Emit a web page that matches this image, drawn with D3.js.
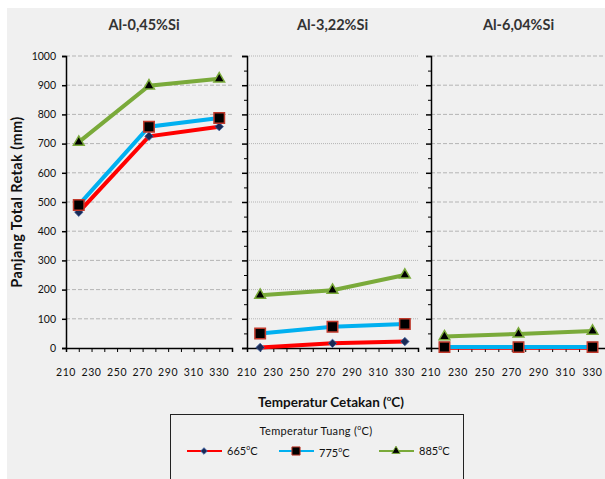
<!DOCTYPE html>
<html>
<head>
<meta charset="utf-8">
<script src="https://cdn.jsdelivr.net/npm/d3@7"></script>
<style>
body { margin: 0; background: #fff; }
text { font-family: Lato, "Open Sans", sans-serif; }
</style>
</head>
<body>
<svg width="605" height="479"></svg>
<script>
var panels = ["Al-0,45%Si", "Al-3,22%Si", "Al-6,04%Si"];
var temps = [220, 275, 330];
var series = ["665", "775", "885"];

// values read per panel, per series
var v665 = [[465, 725, 758], [2, 16, 22], [1, 1, 1]];
var v775 = [[490, 758, 788], [50, 73, 82], [3, 3, 3]];
var v885 = [[705, 898, 922], [181, 198, 250], [39, 48, 58]];

var xTicks = [210, 220, 230, 240, 250, 260, 270, 280, 290, 300, 310, 320, 330, 340];
var xLabels = [210, 230, 250, 270, 290, 310, 330];
var yTicks = [0, 100, 200, 300, 400, 500, 600, 700, 800, 900, 1000];
var yMinor = [50, 150, 250, 350, 450, 550, 650, 750, 850, 950];

var colors = ["#ff0000", "#00b0f0", "#7aaa3a"];
var values = [v665, v775, v885];

var svg = d3.select("svg");

svg.append("rect").attr("x", 7).attr("y", 8).attr("width", 600).attr("height", 480).attr("fill", "#f0f0f0");

var y = d3.scaleLinear().domain([0, 1000]).range([348, 56]);

var ranges = [[66, 232], [247, 418], [431, 606]];
var dashes = ["4,2", "1,1", "4,2"];

panels.forEach(function(name, p) {
  var x = d3.scaleLinear().domain([210, 340]).range(ranges[p]);
  var g = svg.append("g");

  // grid
  g.selectAll(".grid").data(yTicks.slice(1)).enter().append("line")
    .attr("x1", ranges[p][0]).attr("x2", ranges[p][1])
    .attr("y1", function(d) { return y(d); }).attr("y2", function(d) { return y(d); })
    .attr("stroke", "#b4b4b4").attr("stroke-width", 1)
    .attr("stroke-dasharray", dashes[p]);

  // title
  g.append("text").attr("x", (ranges[p][0] + ranges[p][1]) / 2 + (p == 0 ? -5 : 0)).attr("y", 30)
    .attr("text-anchor", "middle").attr("font-size", 14.5).attr("font-weight", "bold")
    .attr("fill", "#333").text(name);

  // x axis
  var xa = g.append("g").attr("transform", "translate(0,348)")
    .call(d3.axisBottom(x).tickValues(xTicks).tickSize(4).tickFormat(""));
  xa.select(".domain").attr("stroke", "#000").attr("stroke-width", 1.5);
  xa.selectAll("line").attr("stroke", "#000");
  g.selectAll(".xl").data(xLabels).enter().append("text")
    .attr("x", function(d) { return x(d); }).attr("y", 376)
    .attr("text-anchor", "middle").attr("font-size", 10.5).attr("fill", "#111")
    .attr("letter-spacing", 0.6).text(function(d) { return d; });

  // y axis
  var ya = g.append("g").attr("transform", "translate(" + ranges[p][0] + ",0)")
    .call(d3.axisLeft(y).tickValues(yTicks).tickSize(p == 0 ? 4 : 5).tickFormat(p == 0 ? d3.format("d") : ""));
  ya.select(".domain").attr("stroke", "#000").attr("stroke-width", 1.5);
  ya.selectAll("line").attr("stroke", "#000").attr("stroke-width", 1.5);
  ya.selectAll("text").attr("font-size", 10.5).attr("fill", "#111").attr("x", -10);
  if (p > 0) {
    g.append("g").attr("transform", "translate(" + ranges[p][0] + ",0)")
      .call(d3.axisLeft(y).tickValues(yMinor).tickSize(3).tickFormat(""))
      .call(function(s) { s.select(".domain").remove(); s.selectAll("line").attr("stroke", "#000"); });
  }

  // lines and markers
  series.forEach(function(s, i) {
    var pts = temps.map(function(t, j) { return [t, values[i][p][j]]; });
    g.append("path").datum(pts)
      .attr("fill", "none").attr("stroke", colors[i]).attr("stroke-width", 4)
      .attr("d", d3.line().x(function(d) { return x(d[0]); }).y(function(d) { return y(d[1]); }));
  });
  series.forEach(function(s, i) {
    var pts = temps.map(function(t, j) { return [t, values[i][p][j]]; });
    g.selectAll(".m" + i).data(pts).enter().append("path")
      .attr("transform", function(d) { return "translate(" + x(d[0]) + "," + y(d[1]) + ")"; })
      .attr("d", markerPath(i, 1))
      .attr("fill", i == 0 ? "#1a2a55" : "#000")
      .attr("stroke", i == 0 ? "#3d5fa0" : (i == 1 ? "#c0392b" : "#7aaa3a"))
      .attr("stroke-width", i == 0 ? 0.8 : 1.5);
  });
});

function markerPath(i, k) {
  if (i == 0) return d3.symbol().type(d3.symbolDiamond2).size(45 * k)();
  if (i == 1) return d3.symbol().type(d3.symbolSquare).size(110 * k)();
  return d3.symbol().type(d3.symbolTriangle).size(50 * k)();
}

// axis titles
svg.append("text").attr("transform", "translate(22,202) rotate(-90)")
  .attr("text-anchor", "middle").attr("font-size", 14.5).attr("font-weight", "bold")
  .attr("fill", "#111").attr("letter-spacing", 0.4)
  .text("Panjang Total Retak (mm)");

var xt = svg.append("text").attr("x", 331).attr("y", 407)
  .attr("text-anchor", "middle").attr("font-size", 13.5).attr("font-weight", "bold").attr("fill", "#111");
xt.append("tspan").text("Temperatur Cetakan (");
xt.append("tspan").attr("dy", -6).attr("font-size", 8).text("o");
xt.append("tspan").attr("dy", 6).text("C)");

// legend
var lg = svg.append("g");
lg.append("rect").attr("x", 170.5).attr("y", 414.5).attr("width", 293).attr("height", 80)
  .attr("fill", "#f0f0f0").attr("stroke", "#222").attr("stroke-width", 1);
var lt = lg.append("text").attr("x", 316).attr("y", 435).attr("text-anchor", "middle")
  .attr("font-size", 11).attr("fill", "#111").attr("letter-spacing", 0.3);
lt.append("tspan").text("Temperatur Tuang (");
lt.append("tspan").attr("dy", -5).attr("font-size", 7).text("o");
lt.append("tspan").attr("dy", 5).text("C)");

var legX = [187, 279, 379];
series.forEach(function(s, i) {
  var ly = 451;
  lg.append("line").attr("x1", legX[i]).attr("x2", legX[i] + 35).attr("y1", ly).attr("y2", ly)
    .attr("stroke", colors[i]).attr("stroke-width", 2);
  lg.append("path").attr("transform", "translate(" + (legX[i] + 17) + "," + ly + ")")
    .attr("d", markerPath(i, 0.6))
    .attr("fill", i == 0 ? "#1a2a55" : "#000")
    .attr("stroke", i == 0 ? "#3d5fa0" : (i == 1 ? "#c0392b" : "#7aaa3a"))
    .attr("stroke-width", 1);
  var t = lg.append("text").attr("x", legX[i] + 40).attr("y", ly + 4 + (i == 1 ? 2 : 0))
    .attr("font-size", 11).attr("fill", "#111");
  t.append("tspan").text(s);
  t.append("tspan").attr("dy", -5).attr("font-size", 7).text("o");
  t.append("tspan").attr("dy", 5).text("C");
});
</script>
</body>
</html>
